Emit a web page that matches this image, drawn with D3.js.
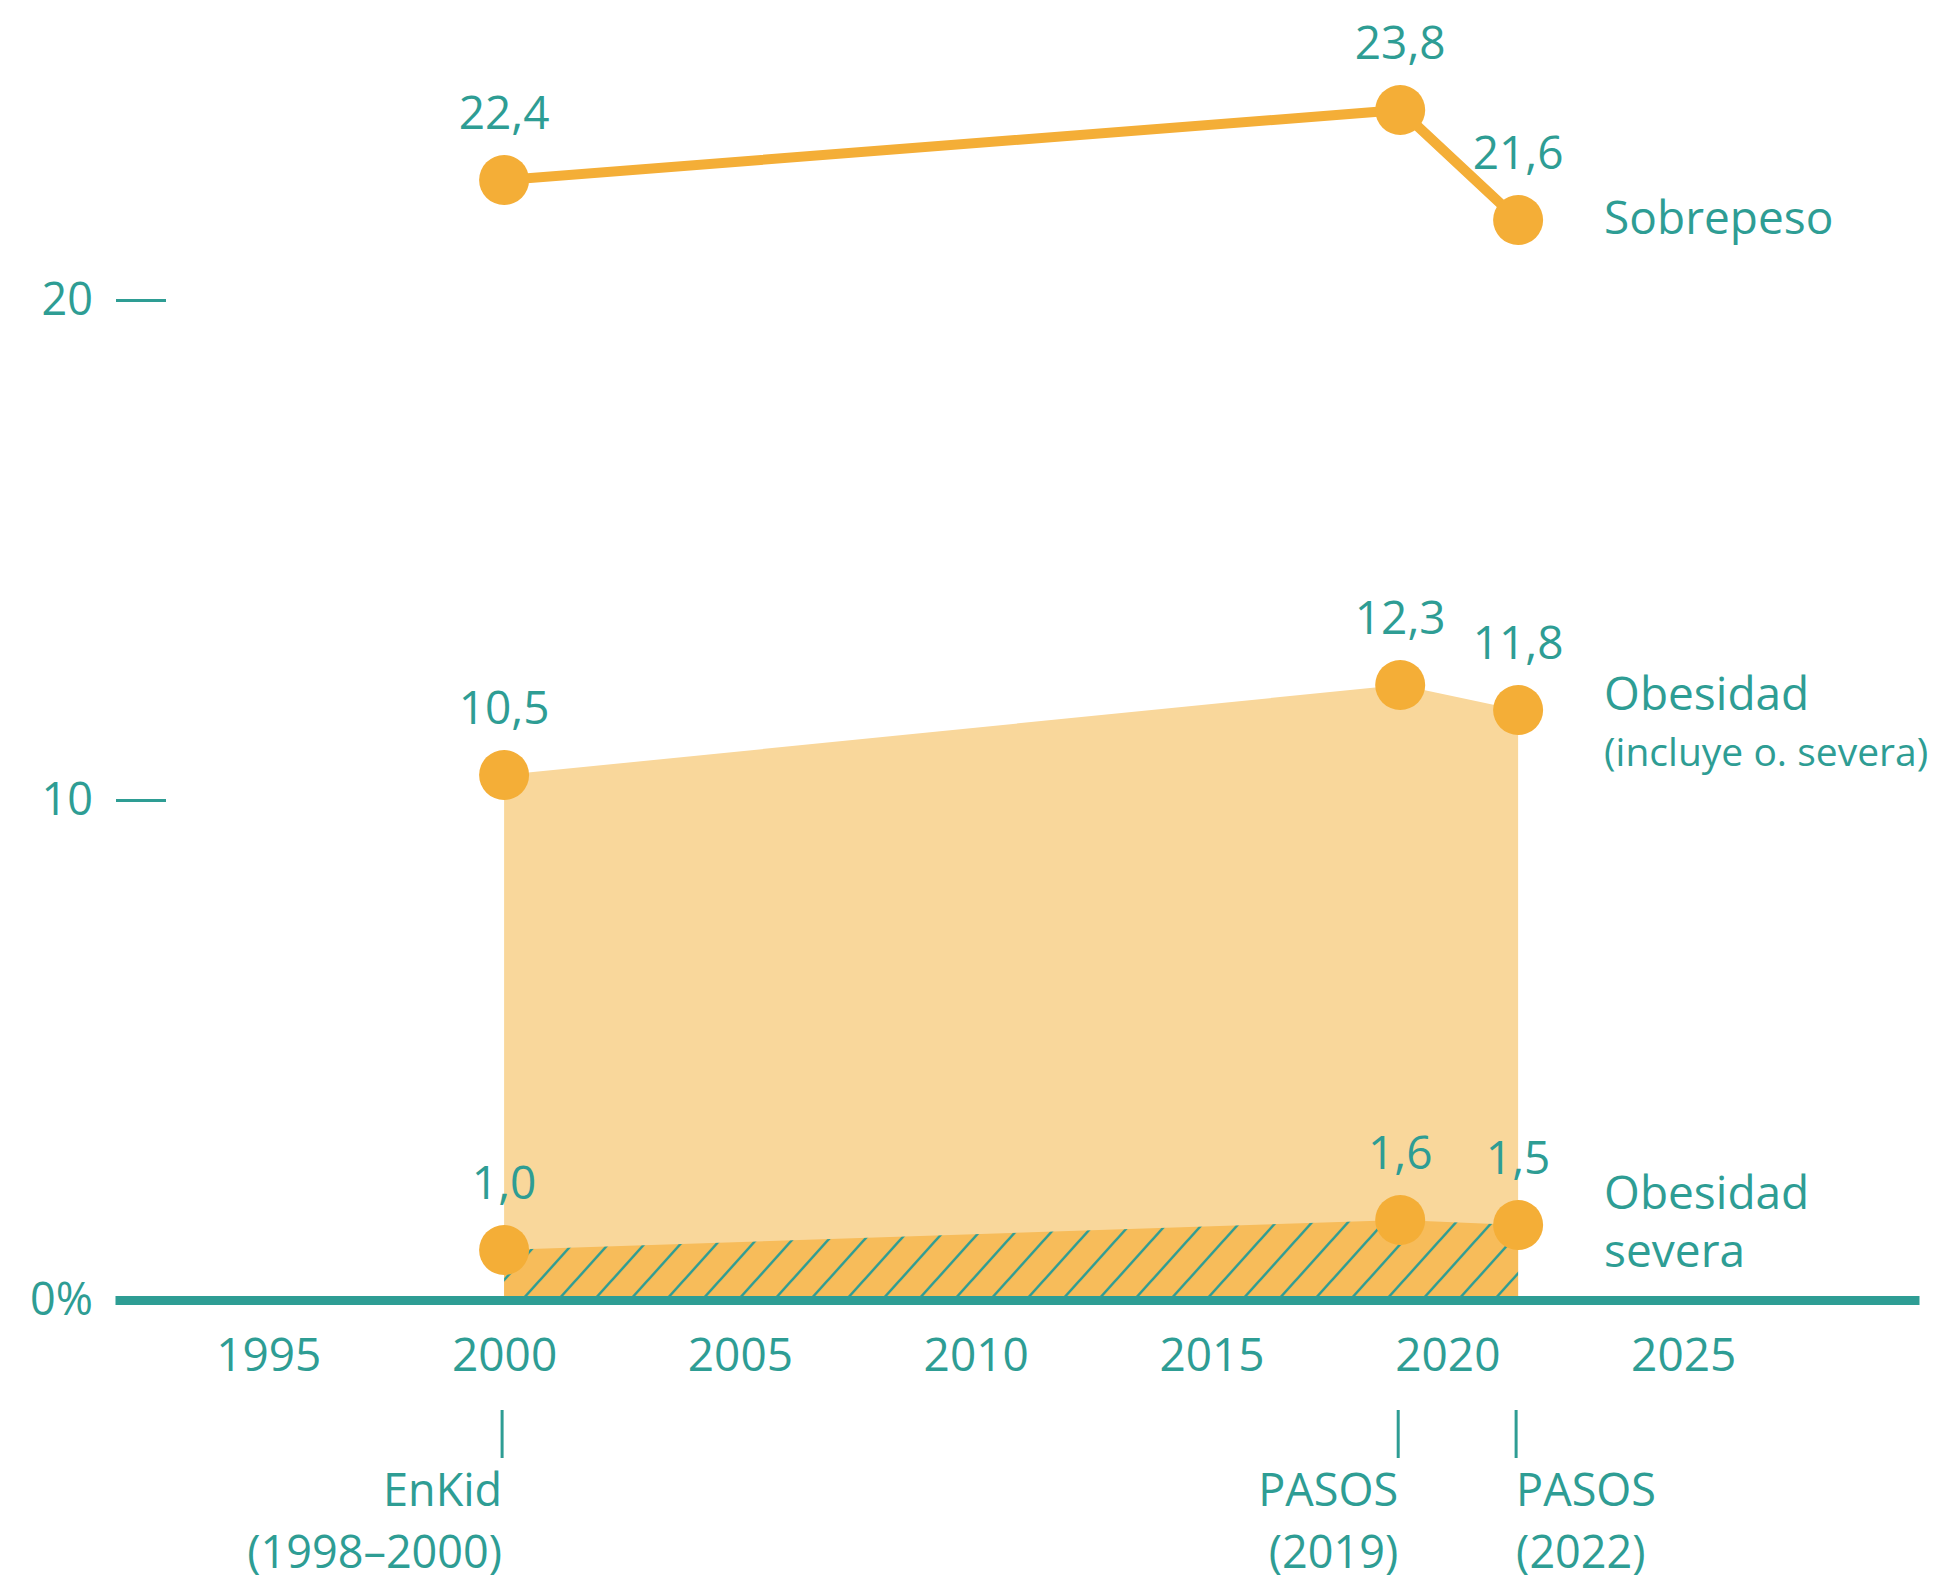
<!DOCTYPE html>
<html>
<head>
<meta charset="utf-8">
<script src="https://cdn.jsdelivr.net/npm/d3@7"></script>
<style>
  body { margin: 0; background: #fff; }
  text { font-family: "Open Sans", sans-serif; fill: #2e9d94; }
</style>
</head>
<body>
<svg id="chart" width="1941" height="1587"></svg>
<script>
const surveyNames = ["EnKid", "PASOS", "PASOS"];
const surveyPeriods = ["(1998–2000)", "(2019)", "(2022)"];
const surveyYears = [2000, 2019, 2021.5];
const sobrepeso = [22.4, 23.8, 21.6];
const obesidad = [10.5, 12.3, 11.8];
const obesidadSevera = [1.0, 1.6, 1.5];
const yearTicks = [1995, 2000, 2005, 2010, 2015, 2020, 2025];
const yTicks = [0, 10, 20];

const teal = "#2e9d94";
const orange = "#f4ae37";
const lightFill = "#f9d79b";
const severeFill = "#f7bc5a";

const svg = d3.select("#chart");

const x = d3.scaleLinear().domain([1991.75, 2030]).range([115, 1919]);
const y = d3.scaleLinear().domain([0, 26]).range([1300, 0]);

const comma = d3.formatLocale({decimal: ",", thousands: ".", grouping: [3], currency: ["", ""]}).format(".1f");

function toPoints(values) {
  return values.map(function(v, i) { return {year: surveyYears[i], value: v}; });
}

// hatch pattern for severe obesity
const defs = svg.append("defs");
const pat = defs.append("pattern")
  .attr("id", "hatch")
  .attr("patternUnits", "userSpaceOnUse")
  .attr("x", x(2000))
  .attr("y", 0)
  .attr("width", 36)
  .attr("height", 40);
pat.append("rect").attr("width", 36).attr("height", 40).attr("fill", severeFill);
pat.append("path")
  .attr("d", "M0,40L36,0M-9,10L9,-10M27,50L45,30")
  .attr("stroke", teal)
  .attr("stroke-width", 2.5);

const area = d3.area()
  .x(function(d) { return x(d.year); })
  .y0(y(0))
  .y1(function(d) { return y(d.value); });

svg.append("path")
  .datum(toPoints(obesidad))
  .attr("d", area)
  .attr("fill", lightFill);

svg.append("path")
  .datum(toPoints(obesidadSevera))
  .attr("d", area)
  .attr("fill", "url(#hatch)");

// y axis
const yAxis = svg.append("g")
  .attr("transform", "translate(166,0)")
  .call(d3.axisLeft(y).tickValues(yTicks).tickSize(50).tickPadding(23)
    .tickFormat(function(d) { return d === 0 ? "0%" : d; }));
yAxis.select(".domain").remove();
yAxis.selectAll(".tick line").attr("stroke", teal).attr("stroke-width", 3);
yAxis.selectAll(".tick text").attr("font-size", 45).attr("fill", teal).attr("font-family", "Open Sans");

// x axis with thick baseline
const xAxis = svg.append("g")
  .attr("transform", "translate(0," + y(0) + ")")
  .call(d3.axisBottom(x).tickValues(yearTicks).tickSize(0).tickSizeOuter(0).tickPadding(38)
    .tickFormat(d3.format("d")));
xAxis.select(".domain").attr("stroke", teal).attr("stroke-width", 9);
xAxis.selectAll(".tick text").attr("font-size", 46).attr("fill", teal).attr("font-family", "Open Sans");

// sobrepeso line
const line = d3.line()
  .x(function(d) { return x(d.year); })
  .y(function(d) { return y(d.value); });

svg.append("path")
  .datum(toPoints(sobrepeso))
  .attr("d", line)
  .attr("fill", "none")
  .attr("stroke", orange)
  .attr("stroke-width", 10);

// dots and value labels
[sobrepeso, obesidad, obesidadSevera].forEach(function(series) {
  const pts = toPoints(series);
  svg.append("g").selectAll("circle")
    .data(pts)
    .enter()
    .append("circle")
    .attr("cx", function(d) { return x(d.year); })
    .attr("cy", function(d) { return y(d.value); })
    .attr("r", 25)
    .attr("fill", orange);
  svg.append("g").selectAll("text")
    .data(pts)
    .enter()
    .append("text")
    .attr("x", function(d) { return x(d.year); })
    .attr("y", function(d) { return y(d.value) - 51; })
    .attr("text-anchor", "middle")
    .attr("font-size", 46)
    .text(function(d) { return comma(d.value); });
});

// series labels at the right
const lastIdx = surveyYears.length - 1;
const labelX = x(surveyYears[lastIdx]) + 86;
const seriesLabels = [
  {value: sobrepeso[lastIdx], lines: [{t: "Sobrepeso", dy: 14, size: 46}]},
  {value: obesidad[lastIdx], lines: [{t: "Obesidad", dy: 0, size: 46}, {t: "(incluye o. severa)", dy: 56, size: 39}]},
  {value: obesidadSevera[lastIdx], lines: [{t: "Obesidad", dy: -16, size: 46}, {t: "severa", dy: 42, size: 46}]}
];
seriesLabels.forEach(function(s) {
  s.lines.forEach(function(l) {
    svg.append("text")
      .attr("x", labelX)
      .attr("y", y(s.value) + l.dy)
      .attr("font-size", l.size)
      .text(l.t);
  });
});

// survey markers below the axis
surveyYears.forEach(function(yr, i) {
  const sx = x(yr) - 2;
  svg.append("line")
    .attr("x1", sx).attr("x2", sx)
    .attr("y1", 1410).attr("y2", 1458)
    .attr("stroke", teal)
    .attr("stroke-width", 3);
  const anchor = i === lastIdx ? "start" : "end";
  svg.append("text")
    .attr("x", sx).attr("y", 1506)
    .attr("text-anchor", anchor)
    .attr("font-size", 45)
    .text(surveyNames[i]);
  svg.append("text")
    .attr("x", sx).attr("y", 1568)
    .attr("text-anchor", anchor)
    .attr("font-size", 45)
    .text(surveyPeriods[i]);
});
</script>
</body>
</html>
